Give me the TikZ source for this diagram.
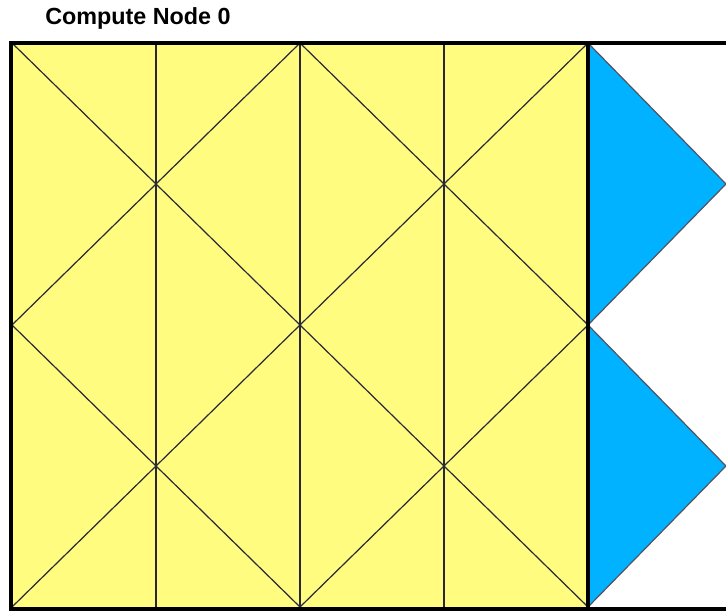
\documentclass[tikz,border=0pt]{standalone}
\usepackage{fontspec}
\setmainfont{Liberation Sans}
\usetikzlibrary{calc}
\definecolor{cellyellow}{RGB}{255,252,128}
\definecolor{ghostblue}{RGB}{0,178,255}
\definecolor{meshgray}{RGB}{40,40,56}

\begin{document}
\begin{tikzpicture}[x=0.75pt, y=-0.75pt,
    mesh/.style={meshgray, line width=0.9pt},
    border/.style={black, line width=3pt, line join=miter},
    ghost/.style={fill=ghostblue, draw=meshgray!80, line width=0.9pt}]
    \useasboundingbox (0,0) rectangle (726,611);
    % Title
    \node[anchor=west, inner sep=0pt, font=\bfseries\fontsize{17.5pt}{20pt}\selectfont] (title) at (45,18) {Compute Node 0};
    % Local cells
    \fill[cellyellow] (12,43) rectangle (588,607);
    % Ghost cells
    \filldraw[ghost] (588,43) -- (726,184) -- (588,325) -- cycle;
    \filldraw[ghost] (588,325) -- (726,466) -- (588,607) -- cycle;
    % Vertical mesh lines
    \foreach \x in {156,300,444} \draw[mesh] (\x,43) -- (\x,607);
    % Diagonals
    \foreach \a/\b in {{12,43}/{588,607}, {300,43}/{588,325}, {12,325}/{300,607},
                       {588,43}/{12,607}, {300,43}/{12,325}, {588,325}/{300,607}}
        \draw[mesh] (\a) -- (\b);
    % Borders
    \draw[border] (726,43) -- (11,43) -- (11,609) -- (726,609);
    \draw[border] (588,43) -- (588,609);
\end{tikzpicture}
\end{document}
